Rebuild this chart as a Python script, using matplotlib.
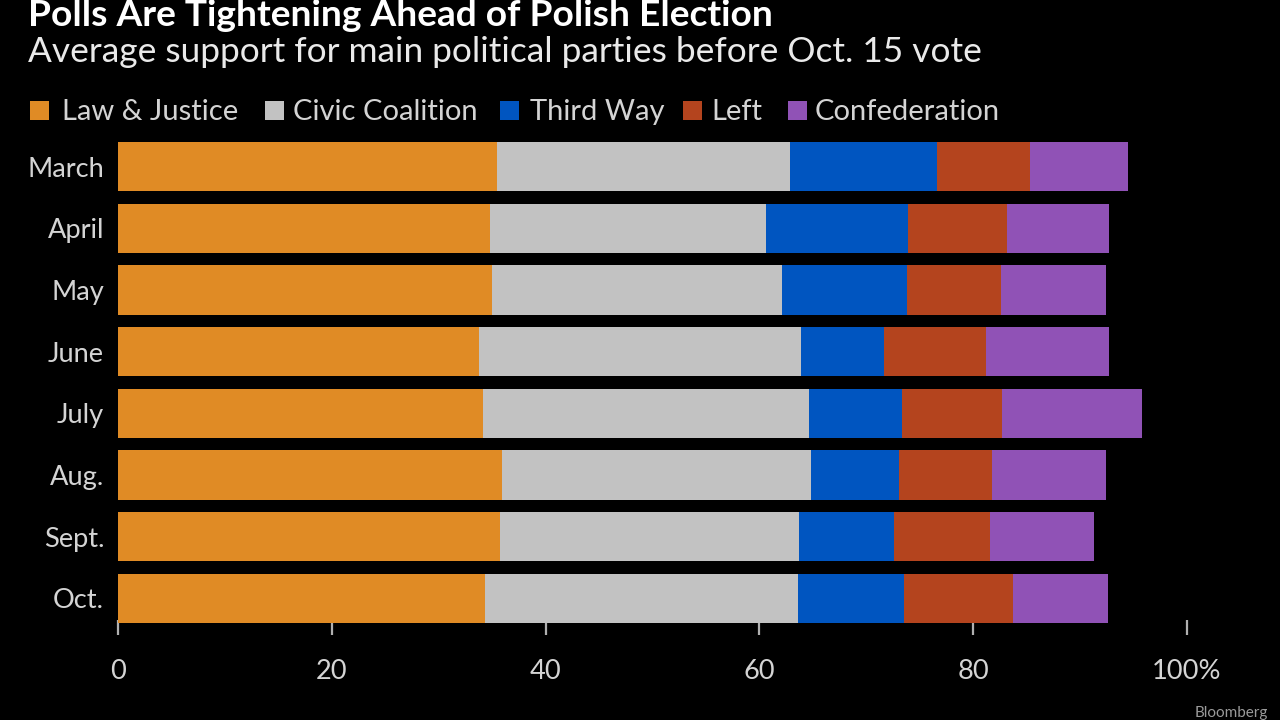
import matplotlib
matplotlib.use("Agg")
import matplotlib.pyplot as plt
from matplotlib.patches import Rectangle
import numpy as np

FONT = ['Lato', 'DejaVu Sans']
plt.rcParams['font.family'] = FONT

months = ["March", "April", "May", "June", "July", "Aug.", "Sept.", "Oct."]
parties = ["Law & Justice", "Civic Coalition", "Third Way", "Left", "Confederation"]
law_justice = [35.5, 34.8, 35.0, 33.8, 34.1, 35.9, 35.7, 34.3]
civic_coalition = [27.4, 25.8, 27.1, 30.1, 30.5, 28.9, 28.0, 29.3]
third_way = [13.7, 13.3, 11.7, 7.8, 8.7, 8.3, 8.9, 9.9]
left = [8.7, 9.3, 8.8, 9.5, 9.4, 8.7, 9.0, 10.2]
confederation = [9.2, 9.5, 9.8, 11.5, 13.1, 10.6, 9.7, 8.9]
colors = ["#E08B25", "#C2C2C2", "#0055C0", "#B4441E", "#9052B6"]
xticks = [0, 20, 40, 60, 80, 100]
xticklabels = ["0", "20", "40", "60", "80", "100%"]

series = [law_justice, civic_coalition, third_way, left, confederation]

W, H = 1280, 720
fig = plt.figure(figsize=(12.8, 7.2), dpi=100, facecolor="black")
fig.canvas.draw()
renderer = fig.canvas.get_renderer()


def fx(px):
    return px / W


def fy(py):
    return 1 - py / H


def fit(t, target_w):
    bb = t.get_window_extent(renderer=renderer)
    t.set_fontsize(t.get_fontsize() * target_w / bb.width)
    return t


ax_left, ax_right = 118, 1187
ax_top, ax_bottom = 135.65, 620
ax = fig.add_axes([fx(ax_left), fy(ax_bottom), fx(ax_right - ax_left), (ax_bottom - ax_top) / H])
ax.set_facecolor("black")

y = np.arange(len(months))
base = np.zeros(len(months))
for vals, c, name in zip(series, colors, parties):
    ax.barh(y, vals, left=base, height=0.8, color=c, edgecolor="none", label=name, clip_on=False, zorder=2)
    base += np.array(vals)

ax.set_xlim(0, 100)
ax.set_ylim(7.35, -0.5)
ax.set_yticks(y)
ax.set_yticklabels(months)
ax.set_xticks(xticks)
ax.set_xticklabels(xticklabels)
for s in ax.spines.values():
    s.set_visible(False)

# tick label size fitted to reference width of "March"
probe = fig.text(0, 0, "March", fontsize=20)
fit(probe, 77)
lab_size = probe.get_fontsize()
probe.remove()

ax.tick_params(axis="y", length=0, pad=10, labelsize=lab_size, labelcolor="#D4D4D4")
ax.tick_params(axis="x", length=11, width=1.6, color="#B0B0B0", pad=17, labelsize=lab_size,
               labelcolor="#D4D4D4", zorder=1)

# Title and subtitle
t1 = fig.text(fx(28), fy(26), "Polls Are Tightening Ahead of Polish Election", color="white",
              fontsize=24, fontweight="bold", ha="left", va="baseline")
fit(t1, 745)
t2 = fig.text(fx(28), fy(62), "Average support for main political parties before Oct. 15 vote",
              color="#EAEAEA", fontsize=24, ha="left", va="baseline")
fit(t2, 954)

# Legend (manual)
ly = 110
sq_x = [30, 265, 500, 683, 788]
txt_x = [62, 293, 530, 711, 815]
probe = fig.text(0, 0, parties[0], fontsize=20)
fit(probe, 176)
leg_size = probe.get_fontsize()
probe.remove()
for name, c, sx, tx in zip(parties, colors, sq_x, txt_x):
    fig.patches.append(Rectangle((fx(sx), fy(ly + 10)), fx(19), 19 / H, transform=fig.transFigure,
                                 facecolor=c, edgecolor="none"))
    fig.text(fx(tx), fy(ly + 2), name, color="#D4D4D4", fontsize=leg_size, ha="left", va="center")

fig.text(fx(1268), fy(717), "Bloomberg", color="#9A9A9A", fontsize=11, ha="right", va="baseline")

fig.savefig("out.png", dpi=100, facecolor="black")
